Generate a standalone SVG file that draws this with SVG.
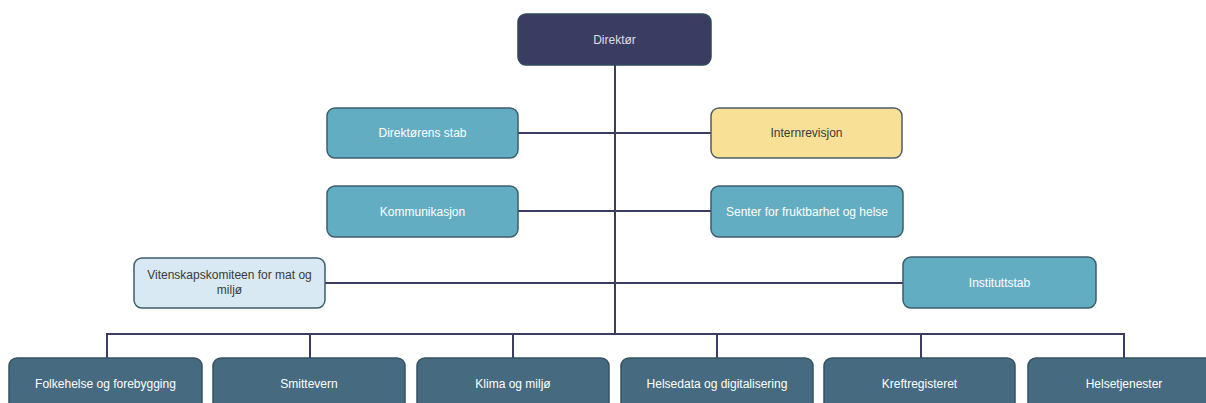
<svg xmlns="http://www.w3.org/2000/svg" width="1206" height="403" viewBox="0 0 1206 403">
<style>
rect{stroke-width:1.5;}
.dir{fill:#3b3c62;stroke:#2f4a5a;}
.teal{fill:#63adc3;stroke:#3c5d6c;}
.yel{fill:#f9e097;stroke:#4f5d66;}
.pale{fill:#d8e9f3;stroke:#3c5d6c;}
.dept{fill:#466b81;stroke:#355261;}
text{font-family:"Liberation Sans",Arial,sans-serif;font-size:12px;text-anchor:middle;}
.lt{fill:#ffffff;}
.dk{fill:#3a3a3a;}
.dg{fill:#dcdce6;}
.conn line{stroke:#3b3c62;stroke-width:2;fill:none;}
</style>
<rect width="1206" height="403" fill="#ffffff" style="stroke:none"/>
<g class="conn">
<line x1="615" y1="65" x2="615" y2="334"/>
<line x1="518" y1="133" x2="711" y2="133"/>
<line x1="518" y1="211" x2="711" y2="211"/>
<line x1="325" y1="283" x2="904" y2="283"/>
<line x1="106" y1="334" x2="1124" y2="334"/>
<line x1="107" y1="333" x2="107" y2="358"/>
<line x1="310" y1="333" x2="310" y2="358"/>
<line x1="513" y1="333" x2="513" y2="358"/>
<line x1="717" y1="333" x2="717" y2="358"/>
<line x1="921" y1="333" x2="921" y2="358"/>
<line x1="1124" y1="333" x2="1124" y2="358"/>
</g>
<g id="direktor"><rect class="dir" x="518" y="14" width="193" height="51" rx="8"/><text class="dg" x="614.5" y="44">Direktør</text></g>
<g id="direktorens-stab"><rect class="teal" x="327" y="108" width="191" height="50" rx="8"/><text class="lt" x="422.5" y="137">Direktørens stab</text></g>
<g id="internrevisjon"><rect class="yel" x="711" y="108" width="191" height="50" rx="8"/><text class="dk" x="806.5" y="137">Internrevisjon</text></g>
<g id="kommunikasjon"><rect class="teal" x="327" y="186" width="191" height="51" rx="8"/><text class="lt" x="422.5" y="216">Kommunikasjon</text></g>
<g id="senter"><rect class="teal" x="711" y="186" width="192" height="51" rx="8"/><text class="lt" x="807" y="216">Senter for fruktbarhet og helse</text></g>
<g id="vitenskapskomiteen"><rect class="pale" x="134" y="258" width="191" height="50" rx="8"/><text class="dk" x="229.5" y="279">Vitenskapskomiteen for mat og</text><text class="dk" x="229.5" y="294">miljø</text></g>
<g id="instituttstab"><rect class="teal" x="903" y="257" width="193" height="51" rx="8"/><text class="lt" x="999.5" y="287">Instituttstab</text></g>
<g id="folkehelse"><rect class="dept" x="9" y="358" width="193" height="60" rx="8"/><text class="lt" x="105.5" y="388">Folkehelse og forebygging</text></g>
<g id="smittevern"><rect class="dept" x="213" y="358" width="192" height="60" rx="8"/><text class="lt" x="309" y="388">Smittevern</text></g>
<g id="klima"><rect class="dept" x="417" y="358" width="192" height="60" rx="8"/><text class="lt" x="513" y="388">Klima og miljø</text></g>
<g id="helsedata"><rect class="dept" x="621" y="358" width="192" height="60" rx="8"/><text class="lt" x="717" y="388">Helsedata og digitalisering</text></g>
<g id="kreftregisteret"><rect class="dept" x="824" y="358" width="191" height="60" rx="8"/><text class="lt" x="919.5" y="388">Kreftregisteret</text></g>
<g id="helsetjenester"><rect class="dept" x="1028" y="358" width="192" height="60" rx="8"/><text class="lt" x="1124" y="388">Helsetjenester</text></g>
</svg>
